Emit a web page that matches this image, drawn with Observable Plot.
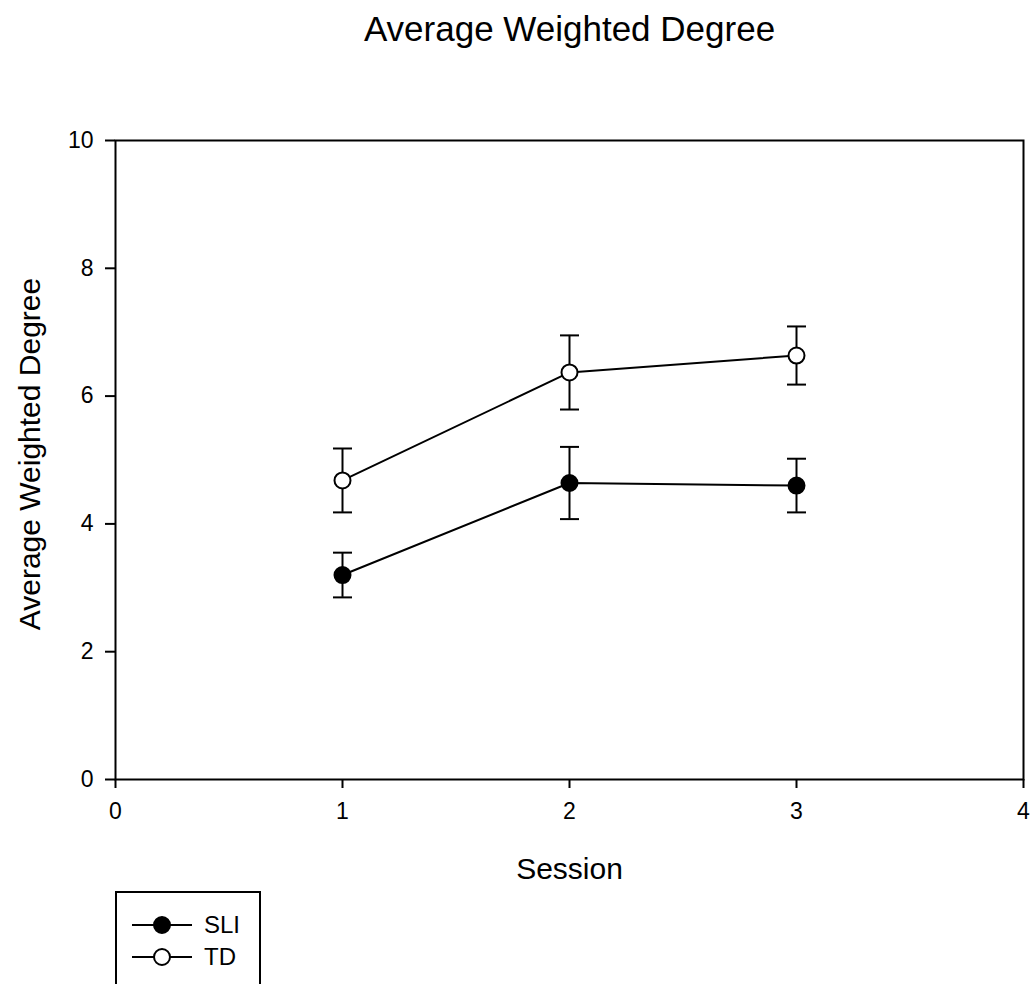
<!DOCTYPE html>
<html>
<head>
<meta charset="utf-8">
<script src="https://cdn.jsdelivr.net/npm/d3@7"></script>
<script src="https://cdn.jsdelivr.net/npm/@observablehq/plot@0.6"></script>
<style>
  html, body { margin: 0; padding: 0; background: #fff; }
  body { width: 1031px; height: 984px; position: relative; overflow: hidden; font-family: "Liberation Sans", Arial, sans-serif; }
  #chart { position: absolute; left: 0; top: 0; }
  #chart g[aria-label$="tick label"] { font-size: 23px !important; }
  #legend { position: absolute; left: 115px; top: 891px; width: 142px; height: 120px; border: 2px solid #000; background: #fff; }
  .row { position: absolute; left: 15px; height: 24px; display: flex; align-items: center; font-size: 24px; color: #000; }
  .row svg { display: block; margin-right: 10px; }
</style>
</head>
<body>
<div id="chart"></div>
<div id="legend"></div>
<script>
const title = "Average Weighted Degree";
const xLabel = "Session";
const yLabel = "Average Weighted Degree";
const sessions = [1, 2, 3];
const sliMean = [3.2, 4.64, 4.6];
const sliErr = [0.35, 0.565, 0.42];
const tdMean = [4.68, 6.37, 6.635];
const tdErr = [0.5, 0.58, 0.455];
const xTicks = [0, 1, 2, 3, 4];
const yTicks = [0, 2, 4, 6, 8, 10];
const groups = ["SLI", "TD"];

const rows = [];
sessions.forEach((s, i) => {
  rows.push({group: "SLI", session: s, mean: sliMean[i], lo: sliMean[i] - sliErr[i], hi: sliMean[i] + sliErr[i]});
});
sessions.forEach((s, i) => {
  rows.push({group: "TD", session: s, mean: tdMean[i], lo: tdMean[i] - tdErr[i], hi: tdMean[i] + tdErr[i]});
});
const caps = rows.flatMap(d => [{group: d.group, session: d.session, v: d.lo}, {group: d.group, session: d.session, v: d.hi}]);

const capSymbol = {
  draw(ctx) { ctx.moveTo(-9.5, 0); ctx.lineTo(9.5, 0); }
};

const fillFor = g => g === "SLI" ? "#000" : "#fff";

const chart = Plot.plot({
  width: 1031,
  height: 984,
  marginLeft: 115,
  marginRight: 8,
  marginTop: 140,
  marginBottom: 205,
  style: {fontFamily: "'Liberation Sans', Arial, sans-serif", fontSize: "23px", color: "#000", background: "#fff", overflow: "visible"},
  x: {domain: [0, 4]},
  y: {domain: [0, 10]},
  marks: [
    Plot.frame({stroke: "#000", strokeWidth: 2}),
    Plot.axisY({ticks: yTicks, tickSize: 10, tickPadding: 12, strokeWidth: 2, fontSize: 23, label: null, tickFormat: d3.format("d")}),
    Plot.axisX({ticks: xTicks, tickSize: 9, tickPadding: 14, strokeWidth: 2, fontSize: 23, label: null, tickFormat: d3.format("d")}),
    Plot.line(rows, {x: "session", y: "mean", z: "group", stroke: "#000", strokeWidth: 2}),
    Plot.ruleX(rows, {x: "session", y1: "lo", y2: "hi", stroke: "#000", strokeWidth: 2}),
    Plot.dot(caps, {x: "session", y: "v", symbol: capSymbol, stroke: "#000", strokeWidth: 2, fill: "none"}),
    Plot.dot(rows, {x: "session", y: "mean", r: 8, stroke: "#000", strokeWidth: 2, fill: d => fillFor(d.group)}),
    Plot.text([title], {frameAnchor: "top", dy: -100, lineAnchor: "bottom", fontSize: 35, fill: "#000"}),
    Plot.text([xLabel], {frameAnchor: "bottom", dy: 99, lineAnchor: "bottom", fontSize: 30, fill: "#000"}),
    Plot.text([yLabel], {frameAnchor: "left", dx: -76, dy: -6, rotate: -90, textAnchor: "middle", lineAnchor: "bottom", fontSize: 30, fill: "#000"})
  ]
});
document.getElementById("chart").appendChild(chart);

const legend = document.getElementById("legend");
groups.forEach((g, i) => {
  const row = document.createElement("div");
  row.className = "row";
  row.style.top = (20 + i * 32) + "px";
  row.innerHTML = `<svg width="62" height="24"><line x1="0" y1="12" x2="60" y2="12" stroke="#000" stroke-width="2"/><circle cx="30" cy="12" r="8" stroke="#000" stroke-width="2" fill="${fillFor(g)}"/></svg><span>${g}</span>`;
  legend.appendChild(row);
});
</script>
</body>
</html>
